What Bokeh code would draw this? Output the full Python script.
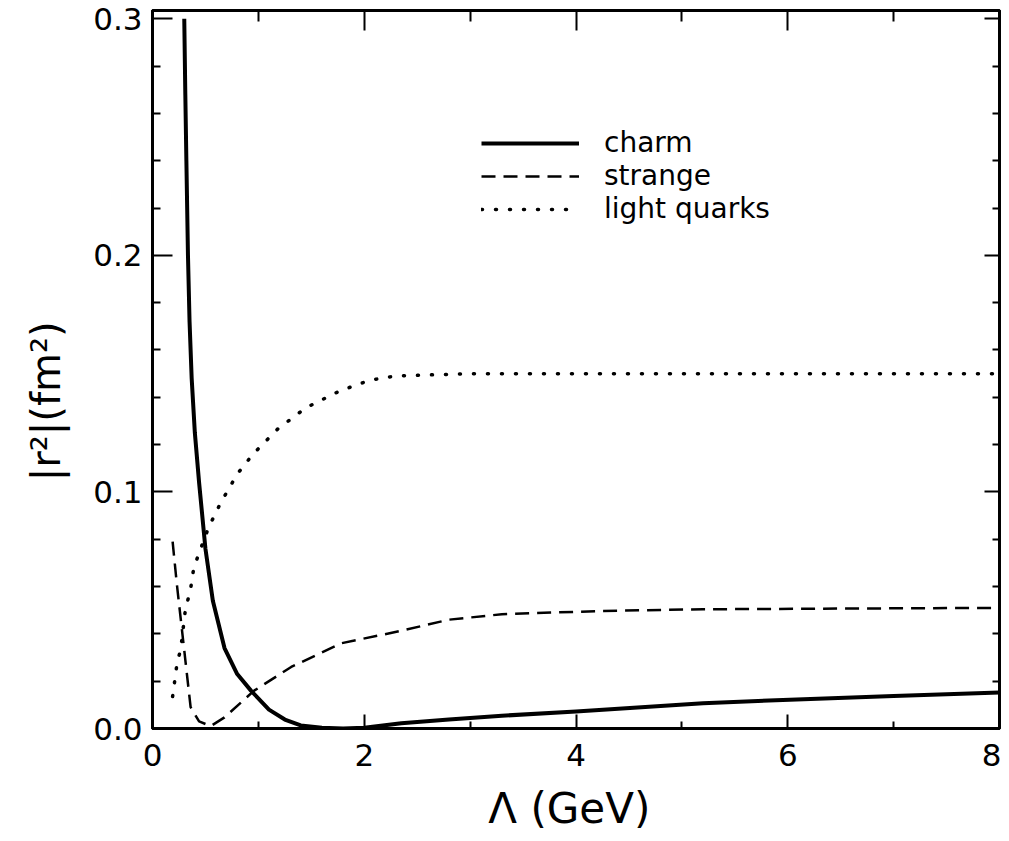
from bokeh.plotting import figure
from bokeh.models import (LinearAxis, FixedTicker, Range1d, Legend, LegendItem,
                          PrintfTickFormatter)
from bokeh.embed import file_html
from bokeh.resources import INLINE

# ---- data ----
charm_x = [0.30, 0.31, 0.32, 0.335, 0.35, 0.37, 0.40, 0.44, 0.50, 0.57, 0.68, 0.80, 0.93,
           1.10, 1.25, 1.40, 1.60, 1.80, 2.00, 2.35, 2.80, 3.30, 4.00, 5.20, 6.15, 7.00, 8.00]
charm_y = [0.300, 0.268, 0.240, 0.200, 0.172, 0.148, 0.125, 0.104, 0.076, 0.054, 0.034,
           0.023, 0.016, 0.0080, 0.0038, 0.0013, 0.0003, 0.0, 0.0003, 0.0022, 0.0038,
           0.0054, 0.0072, 0.0107, 0.0124, 0.0137, 0.0152]

strange_x = [0.19, 0.23, 0.30, 0.36, 0.44, 0.55, 0.68, 0.96, 1.31, 1.78, 2.35, 2.80, 3.30,
             4.25, 5.20, 6.50, 8.00]
strange_y = [0.079, 0.061, 0.033, 0.009, 0.003, 0.001, 0.0047, 0.016, 0.026, 0.036, 0.0413,
             0.046, 0.0483, 0.0497, 0.0504, 0.0507, 0.051]

light_x = [0.19, 0.235, 0.265, 0.31, 0.36, 0.39, 0.455, 0.53, 0.645, 0.80, 0.95, 1.18, 1.45,
           1.77, 2.05, 2.30, 3.00, 5.00, 8.00]
light_y = [0.0135, 0.0286, 0.033, 0.050, 0.059, 0.068, 0.076, 0.085, 0.0955, 0.1075, 0.116,
           0.1265, 0.1356, 0.1427, 0.1472, 0.1490, 0.1500, 0.1500, 0.1500]

series_labels = ["charm", "strange", "light quarks"]
x_ticks = [0, 2, 4, 6, 8]
x_minor = [1, 3, 5, 7]
y_ticks = [0.0, 0.1, 0.2, 0.3]
y_minor = [0.02, 0.04, 0.06, 0.08, 0.12, 0.14, 0.16, 0.18, 0.22, 0.24, 0.26, 0.28]
x_label = "Λ (GeV)" + "\u00a0"          # trailing no-break space nudges the title left
y_label = "|r²|(fm²)" + "\u00a0" * 5   # trailing no-break spaces push the title down

FONT = "DejaVu Sans"

p = figure(width=1001, height=841, x_range=Range1d(0, 8), y_range=Range1d(0, 0.3035),
           output_backend="svg", toolbar_location=None,
           x_axis_location=None, y_axis_location=None,
           min_border_left=152, min_border_right=2, min_border_top=10, min_border_bottom=113)
p.grid.visible = False
p.outline_line_color = "black"
p.outline_line_width = 3
p.background_fill_color = "white"
p.border_fill_color = "white"


def make_axis(ticks, minor, fmt, tin, tmin, show_labels):
    ax = LinearAxis(ticker=FixedTicker(ticks=ticks, minor_ticks=minor),
                    formatter=PrintfTickFormatter(format=fmt))
    ax.axis_line_color = "black"
    ax.axis_line_width = 3
    ax.major_tick_in = tin
    ax.major_tick_out = 0
    ax.minor_tick_in = tmin
    ax.minor_tick_out = 0
    ax.major_tick_line_width = 2
    ax.minor_tick_line_width = 2
    ax.major_tick_line_color = "black"
    ax.minor_tick_line_color = "black"
    if show_labels:
        ax.major_label_text_font = FONT
        ax.major_label_text_font_size = "31px"
        ax.major_label_text_color = "black"
    else:
        ax.major_label_text_font_size = "0px"
        ax.major_label_text_color = None
        ax.major_label_text_alpha = 0
        ax.major_label_standoff = 0
    return ax


left = make_axis(y_ticks, y_minor, "%.1f", 20, 8, True)
left.major_label_standoff = 10
left.axis_label = y_label
left.axis_label_text_font = FONT
left.axis_label_text_font_size = "40px"
left.axis_label_text_font_style = "normal"
left.axis_label_text_color = "black"
left.axis_label_standoff = 21

bottom = make_axis(x_ticks, x_minor, "%d", 14, 7, True)
bottom.major_label_standoff = 15
bottom.axis_label = x_label
bottom.axis_label_text_font = FONT
bottom.axis_label_text_font_size = "42px"
bottom.axis_label_text_font_style = "normal"
bottom.axis_label_text_color = "black"
bottom.axis_label_standoff = 15

top = make_axis(x_ticks, x_minor, "%d", 20, 11, False)
right = make_axis(y_ticks, y_minor, "%.1f", 15, 7, False)
p.add_layout(left, "left")
p.add_layout(bottom, "below")
p.add_layout(top, "above")
p.add_layout(right, "right")

r_charm = p.line(charm_x, charm_y, line_color="black", line_width=4, line_join="round")
r_strange = p.line(strange_x, strange_y, line_color="black", line_width=2.5, line_dash="14 8")
r_light = p.line(light_x, light_y, line_color="black", line_width=3.5, line_dash="1 13",
                 line_cap="round")

legend = Legend(items=[LegendItem(label=series_labels[0], renderers=[r_charm]),
                       LegendItem(label=series_labels[1], renderers=[r_strange]),
                       LegendItem(label=series_labels[2], renderers=[r_light])],
                location=(329, 503), glyph_width=98, glyph_height=30, label_height=30,
                label_standoff=25, spacing=0, padding=0, margin=0,
                border_line_color=None, background_fill_alpha=0,
                label_text_font=FONT, label_text_font_size="28px", label_text_color="black")
p.add_layout(legend, "center")

open("out.html", "w").write(file_html(p, INLINE))
